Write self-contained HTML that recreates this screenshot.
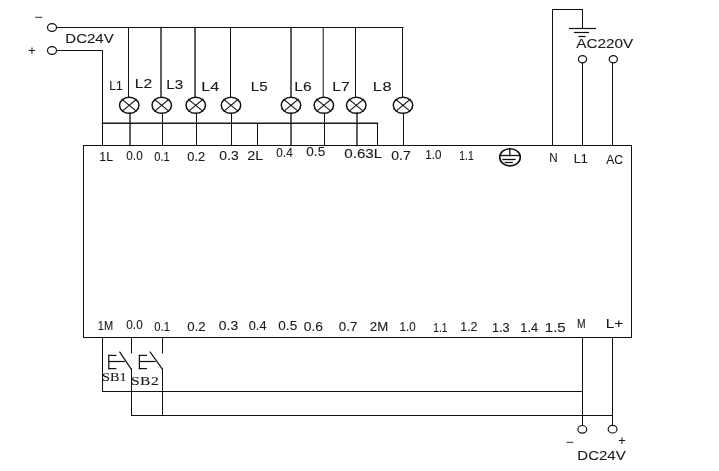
<!DOCTYPE html>
<html><head><meta charset="utf-8"><style>
html,body{margin:0;padding:0;background:#fff;}
svg{display:block;filter:grayscale(100%);}
</style></head><body>
<svg width="719" height="471" viewBox="0 0 719 471">
<rect width="719" height="471" fill="#fff"/>
<text transform="translate(34.30,21.20) scale(1.197327394209354,1)" x="0" y="0" font-family="Liberation Sans" font-size="12" fill="#1a1a1a" stroke="#1a1a1a" stroke-width="0.1" textLength="7.02" lengthAdjust="spacing" >−</text>
<ellipse cx="52" cy="27.5" rx="4.5" ry="3.8" fill="none" stroke="#111" stroke-width="1.2"/>
<text transform="translate(28.30,55.20) scale(1.0547884187082406,1)" x="0" y="0" font-family="Liberation Sans" font-size="12" fill="#1a1a1a" stroke="#1a1a1a" stroke-width="0.1" textLength="7.02" lengthAdjust="spacing" >+</text>
<ellipse cx="52" cy="50.5" rx="4.5" ry="3.8" fill="none" stroke="#111" stroke-width="1.2"/>
<text transform="translate(65.30,42.70) scale(1.1918430165448248,1)" x="0" y="0" font-family="Liberation Sans" font-size="12.6" fill="#1a1a1a" stroke="#1a1a1a" stroke-width="0.1" textLength="40.61" lengthAdjust="spacing" >DC24V</text>
<line x1="56.5" y1="27.5" x2="403.0" y2="27.5" stroke="#111" stroke-width="1" stroke-linecap="square"/>
<line x1="56.5" y1="50.5" x2="102.5" y2="50.5" stroke="#111" stroke-width="1" stroke-linecap="square"/>
<line x1="102.5" y1="50.5" x2="102.5" y2="145.5" stroke="#111" stroke-width="1" stroke-linecap="square"/>
<line x1="128.5" y1="27.5" x2="128.5" y2="97.3" stroke="#111" stroke-width="1" stroke-linecap="square"/>
<line x1="130.0" y1="113.3" x2="130.0" y2="145.5" stroke="#2a2a2a" stroke-width="1.5" stroke-linecap="square"/>
<ellipse cx="129.25" cy="105.3" rx="9.7" ry="8.0" fill="none" stroke="#111" stroke-width="1.5"/>
<line x1="122.338" y1="99.612" x2="136.162" y2="110.988" stroke="#111" stroke-width="1.1" stroke-linecap="square"/>
<line x1="136.162" y1="99.612" x2="122.338" y2="110.988" stroke="#111" stroke-width="1.1" stroke-linecap="square"/>
<line x1="161.0" y1="27.5" x2="161.0" y2="97.3" stroke="#2a2a2a" stroke-width="1.5" stroke-linecap="square"/>
<line x1="162.5" y1="113.3" x2="162.5" y2="145.5" stroke="#111" stroke-width="1" stroke-linecap="square"/>
<ellipse cx="161.75" cy="105.3" rx="9.7" ry="8.0" fill="none" stroke="#111" stroke-width="1.5"/>
<line x1="154.838" y1="99.612" x2="168.662" y2="110.988" stroke="#111" stroke-width="1.1" stroke-linecap="square"/>
<line x1="168.662" y1="99.612" x2="154.838" y2="110.988" stroke="#111" stroke-width="1.1" stroke-linecap="square"/>
<line x1="195.0" y1="27.5" x2="195.0" y2="97.3" stroke="#2a2a2a" stroke-width="1.5" stroke-linecap="square"/>
<line x1="196.5" y1="113.3" x2="196.5" y2="145.5" stroke="#111" stroke-width="1" stroke-linecap="square"/>
<ellipse cx="195.75" cy="105.3" rx="9.7" ry="8.0" fill="none" stroke="#111" stroke-width="1.5"/>
<line x1="188.838" y1="99.612" x2="202.662" y2="110.988" stroke="#111" stroke-width="1.1" stroke-linecap="square"/>
<line x1="202.662" y1="99.612" x2="188.838" y2="110.988" stroke="#111" stroke-width="1.1" stroke-linecap="square"/>
<line x1="230.5" y1="27.5" x2="230.5" y2="97.3" stroke="#111" stroke-width="1" stroke-linecap="square"/>
<line x1="231.5" y1="113.3" x2="231.5" y2="145.5" stroke="#111" stroke-width="1" stroke-linecap="square"/>
<ellipse cx="231.0" cy="105.3" rx="9.7" ry="8.0" fill="none" stroke="#111" stroke-width="1.5"/>
<line x1="224.088" y1="99.612" x2="237.912" y2="110.988" stroke="#111" stroke-width="1.1" stroke-linecap="square"/>
<line x1="237.912" y1="99.612" x2="224.088" y2="110.988" stroke="#111" stroke-width="1.1" stroke-linecap="square"/>
<line x1="291.0" y1="27.5" x2="291.0" y2="97.3" stroke="#2a2a2a" stroke-width="1.5" stroke-linecap="square"/>
<line x1="291.0" y1="113.3" x2="291.0" y2="145.5" stroke="#2a2a2a" stroke-width="1.5" stroke-linecap="square"/>
<ellipse cx="291.0" cy="105.3" rx="9.7" ry="8.0" fill="none" stroke="#111" stroke-width="1.5"/>
<line x1="284.088" y1="99.612" x2="297.912" y2="110.988" stroke="#111" stroke-width="1.1" stroke-linecap="square"/>
<line x1="297.912" y1="99.612" x2="284.088" y2="110.988" stroke="#111" stroke-width="1.1" stroke-linecap="square"/>
<line x1="323.2" y1="27.5" x2="323.2" y2="97.3" stroke="#111" stroke-width="1" stroke-linecap="square"/>
<line x1="324.5" y1="113.3" x2="324.5" y2="145.5" stroke="#111" stroke-width="1" stroke-linecap="square"/>
<ellipse cx="323.85" cy="105.3" rx="9.7" ry="8.0" fill="none" stroke="#111" stroke-width="1.5"/>
<line x1="316.93800000000005" y1="99.612" x2="330.762" y2="110.988" stroke="#111" stroke-width="1.1" stroke-linecap="square"/>
<line x1="330.762" y1="99.612" x2="316.93800000000005" y2="110.988" stroke="#111" stroke-width="1.1" stroke-linecap="square"/>
<line x1="355.5" y1="27.5" x2="355.5" y2="97.3" stroke="#111" stroke-width="1" stroke-linecap="square"/>
<line x1="357.0" y1="113.3" x2="357.0" y2="145.5" stroke="#2a2a2a" stroke-width="1.5" stroke-linecap="square"/>
<ellipse cx="356.25" cy="105.3" rx="9.7" ry="8.0" fill="none" stroke="#111" stroke-width="1.5"/>
<line x1="349.338" y1="99.612" x2="363.162" y2="110.988" stroke="#111" stroke-width="1.1" stroke-linecap="square"/>
<line x1="363.162" y1="99.612" x2="349.338" y2="110.988" stroke="#111" stroke-width="1.1" stroke-linecap="square"/>
<line x1="402.5" y1="27.5" x2="402.5" y2="97.3" stroke="#111" stroke-width="1" stroke-linecap="square"/>
<line x1="403.5" y1="113.3" x2="403.5" y2="145.5" stroke="#111" stroke-width="1" stroke-linecap="square"/>
<ellipse cx="403.0" cy="105.3" rx="9.7" ry="8.0" fill="none" stroke="#111" stroke-width="1.5"/>
<line x1="396.088" y1="99.612" x2="409.912" y2="110.988" stroke="#111" stroke-width="1.1" stroke-linecap="square"/>
<line x1="409.912" y1="99.612" x2="396.088" y2="110.988" stroke="#111" stroke-width="1.1" stroke-linecap="square"/>
<line x1="102.5" y1="123.25" x2="377.5" y2="123.25" stroke="#1a1a1a" stroke-width="1.4" stroke-linecap="square"/>
<line x1="257.5" y1="123.5" x2="257.5" y2="145.5" stroke="#111" stroke-width="1" stroke-linecap="square"/>
<line x1="377.5" y1="123.5" x2="377.5" y2="145.5" stroke="#111" stroke-width="1" stroke-linecap="square"/>
<text transform="translate(109.30,89.70) scale(0.9560758082497213,1)" x="0" y="0" font-family="Liberation Sans" font-size="12.6" fill="#1a1a1a" stroke="#1a1a1a" stroke-width="0.1" textLength="14.02" lengthAdjust="spacing" >L1</text>
<text transform="translate(134.80,88.20) scale(1.2414715719063545,1)" x="0" y="0" font-family="Liberation Sans" font-size="12.6" fill="#1a1a1a" stroke="#1a1a1a" stroke-width="0.1" textLength="14.02" lengthAdjust="spacing" >L2</text>
<text transform="translate(166.30,88.90) scale(1.2057971014492752,1)" x="0" y="0" font-family="Liberation Sans" font-size="12.6" fill="#1a1a1a" stroke="#1a1a1a" stroke-width="0.1" textLength="14.02" lengthAdjust="spacing" >L3</text>
<text transform="translate(201.30,90.70) scale(1.2771460423634335,1)" x="0" y="0" font-family="Liberation Sans" font-size="12.6" fill="#1a1a1a" stroke="#1a1a1a" stroke-width="0.1" textLength="14.02" lengthAdjust="spacing" >L4</text>
<text transform="translate(250.80,90.70) scale(1.2057971014492752,1)" x="0" y="0" font-family="Liberation Sans" font-size="12.6" fill="#1a1a1a" stroke="#1a1a1a" stroke-width="0.1" textLength="14.02" lengthAdjust="spacing" >L5</text>
<text transform="translate(294.30,90.70) scale(1.2414715719063545,1)" x="0" y="0" font-family="Liberation Sans" font-size="12.6" fill="#1a1a1a" stroke="#1a1a1a" stroke-width="0.1" textLength="14.02" lengthAdjust="spacing" >L6</text>
<text transform="translate(332.30,90.70) scale(1.2414715719063545,1)" x="0" y="0" font-family="Liberation Sans" font-size="12.6" fill="#1a1a1a" stroke="#1a1a1a" stroke-width="0.1" textLength="14.02" lengthAdjust="spacing" >L7</text>
<text transform="translate(372.80,90.70) scale(1.3,1)" x="0" y="0" font-family="Liberation Sans" font-size="12.6" fill="#1a1a1a" stroke="#1a1a1a" stroke-width="0.1" textLength="14.54" lengthAdjust="spacing" >L8</text>
<rect x="83.5" y="145.5" width="548" height="192" fill="none" stroke="#111" stroke-width="1"/>
<text transform="translate(99.30,160.90) scale(0.9774804905239686,1)" x="0" y="0" font-family="Liberation Sans" font-size="12.6" fill="#1a1a1a" stroke="#1a1a1a" stroke-width="0.1" textLength="14.02" lengthAdjust="spacing" >1L</text>
<text transform="translate(126.30,159.90) scale(0.9363068688670829,1)" x="0" y="0" font-family="Liberation Sans" font-size="12.6" fill="#1a1a1a" stroke="#1a1a1a" stroke-width="0.1" textLength="17.52" lengthAdjust="spacing" >0.0</text>
<text transform="translate(154.30,160.90) scale(0.8792149866190901,1)" x="0" y="0" font-family="Liberation Sans" font-size="12.6" fill="#1a1a1a" stroke="#1a1a1a" stroke-width="0.1" textLength="17.52" lengthAdjust="spacing" >0.1</text>
<text transform="translate(187.30,160.70) scale(1.0219446922390722,1)" x="0" y="0" font-family="Liberation Sans" font-size="12.6" fill="#1a1a1a" stroke="#1a1a1a" stroke-width="0.1" textLength="17.52" lengthAdjust="spacing" >0.2</text>
<text transform="translate(219.30,159.70) scale(1.1075825156110615,1)" x="0" y="0" font-family="Liberation Sans" font-size="12.6" fill="#1a1a1a" stroke="#1a1a1a" stroke-width="0.1" textLength="17.52" lengthAdjust="spacing" >0.3</text>
<text transform="translate(247.30,160.20) scale(1.134448160535117,1)" x="0" y="0" font-family="Liberation Sans" font-size="12.6" fill="#1a1a1a" stroke="#1a1a1a" stroke-width="0.1" textLength="14.02" lengthAdjust="spacing" >2L</text>
<text transform="translate(276.30,156.70) scale(0.9363068688670829,1)" x="0" y="0" font-family="Liberation Sans" font-size="12.6" fill="#1a1a1a" stroke="#1a1a1a" stroke-width="0.1" textLength="17.52" lengthAdjust="spacing" >0.4</text>
<text transform="translate(306.30,156.20) scale(1.0790365744870651,1)" x="0" y="0" font-family="Liberation Sans" font-size="12.6" fill="#1a1a1a" stroke="#1a1a1a" stroke-width="0.1" textLength="17.52" lengthAdjust="spacing" >0.5</text>
<text transform="translate(344.30,158.40) scale(1.2025780862667328,1)" x="0" y="0" font-family="Liberation Sans" font-size="12.6" fill="#1a1a1a" stroke="#1a1a1a" stroke-width="0.1" textLength="31.52" lengthAdjust="spacing" >0.63L</text>
<text transform="translate(391.30,159.70) scale(1.1075825156110615,1)" x="0" y="0" font-family="Liberation Sans" font-size="12.6" fill="#1a1a1a" stroke="#1a1a1a" stroke-width="0.1" textLength="17.52" lengthAdjust="spacing" >0.7</text>
<text transform="translate(425.30,159.40) scale(0.9248884924174849,1)" x="0" y="0" font-family="Liberation Sans" font-size="12.6" fill="#1a1a1a" stroke="#1a1a1a" stroke-width="0.1" textLength="17.52" lengthAdjust="spacing" >1.0</text>
<text transform="translate(459.30,160.00) scale(0.85,1)" x="0" y="0" font-family="Liberation Sans" font-size="12.6" fill="#1a1a1a" stroke="#1a1a1a" stroke-width="0.1" textLength="16.94" lengthAdjust="spacingAndGlyphs" >1.1</text>
<text transform="translate(549.30,162.00) scale(0.9221269296740995,1)" x="0" y="0" font-family="Liberation Sans" font-size="12.6" fill="#1a1a1a" stroke="#1a1a1a" stroke-width="0.1" textLength="9.11" lengthAdjust="spacing" >N</text>
<text transform="translate(573.80,162.50) scale(0.9917502787068004,1)" x="0" y="0" font-family="Liberation Sans" font-size="12.6" fill="#1a1a1a" stroke="#1a1a1a" stroke-width="0.1" textLength="14.02" lengthAdjust="spacing" >L1</text>
<text transform="translate(606.30,163.60) scale(0.9599999999999986,1)" x="0" y="0" font-family="Liberation Sans" font-size="12.6" fill="#1a1a1a" stroke="#1a1a1a" stroke-width="0.1" textLength="17.50" lengthAdjust="spacing" >AC</text>
<ellipse cx="510" cy="157.3" rx="10.3" ry="8.6" fill="none" stroke="#111" stroke-width="1.6"/>
<line x1="500" y1="155.5" x2="520" y2="155.5" stroke="#111" stroke-width="1.3" stroke-linecap="square"/>
<line x1="509.8" y1="148.5" x2="509.8" y2="155.5" stroke="#111" stroke-width="1.3" stroke-linecap="square"/>
<line x1="503" y1="159.5" x2="515" y2="159.5" stroke="#111" stroke-width="1.3" stroke-linecap="square"/>
<line x1="505.2" y1="162.5" x2="512.3" y2="162.5" stroke="#111" stroke-width="1.2" stroke-linecap="square"/>
<line x1="552.5" y1="9.5" x2="552.5" y2="145.5" stroke="#111" stroke-width="1" stroke-linecap="square"/>
<line x1="552.5" y1="9.5" x2="582.5" y2="9.5" stroke="#111" stroke-width="1" stroke-linecap="square"/>
<line x1="582.5" y1="9.5" x2="582.5" y2="28.5" stroke="#111" stroke-width="1" stroke-linecap="square"/>
<line x1="569.5" y1="28.5" x2="595.5" y2="28.5" stroke="#111" stroke-width="1.2" stroke-linecap="square"/>
<line x1="574.5" y1="32.5" x2="588.5" y2="32.5" stroke="#111" stroke-width="1.2" stroke-linecap="square"/>
<line x1="579" y1="36.5" x2="585" y2="36.5" stroke="#111" stroke-width="1.2" stroke-linecap="square"/>
<text transform="translate(576.30,48.00) scale(1.2126540126540126,1)" x="0" y="0" font-family="Liberation Sans" font-size="12.6" fill="#1a1a1a" stroke="#1a1a1a" stroke-width="0.1" textLength="46.92" lengthAdjust="spacing" >AC220V</text>
<ellipse cx="582.5" cy="59.3" rx="4.1" ry="3.6" fill="none" stroke="#111" stroke-width="1.2"/>
<ellipse cx="613.3" cy="59.3" rx="4.1" ry="3.6" fill="none" stroke="#111" stroke-width="1.2"/>
<line x1="582.5" y1="63" x2="582.5" y2="145.5" stroke="#111" stroke-width="1" stroke-linecap="square"/>
<line x1="612.5" y1="63" x2="612.5" y2="145.5" stroke="#111" stroke-width="1" stroke-linecap="square"/>
<text transform="translate(97.80,330.20) scale(0.8742857142857147,1)" x="0" y="0" font-family="Liberation Sans" font-size="12.6" fill="#1a1a1a" stroke="#1a1a1a" stroke-width="0.1" textLength="17.50" lengthAdjust="spacing" >1M</text>
<text transform="translate(126.30,329.20) scale(0.9363068688670829,1)" x="0" y="0" font-family="Liberation Sans" font-size="12.6" fill="#1a1a1a" stroke="#1a1a1a" stroke-width="0.1" textLength="17.52" lengthAdjust="spacing" >0.0</text>
<text transform="translate(154.30,331.20) scale(0.8963425512934886,1)" x="0" y="0" font-family="Liberation Sans" font-size="12.6" fill="#1a1a1a" stroke="#1a1a1a" stroke-width="0.1" textLength="17.52" lengthAdjust="spacing" >0.1</text>
<text transform="translate(187.30,330.70) scale(1.0504906333630686,1)" x="0" y="0" font-family="Liberation Sans" font-size="12.6" fill="#1a1a1a" stroke="#1a1a1a" stroke-width="0.1" textLength="17.52" lengthAdjust="spacing" >0.2</text>
<text transform="translate(218.80,330.00) scale(1.1075825156110615,1)" x="0" y="0" font-family="Liberation Sans" font-size="12.6" fill="#1a1a1a" stroke="#1a1a1a" stroke-width="0.1" textLength="17.52" lengthAdjust="spacing" >0.3</text>
<text transform="translate(248.80,330.00) scale(1.0105263157894742,1)" x="0" y="0" font-family="Liberation Sans" font-size="12.6" fill="#1a1a1a" stroke="#1a1a1a" stroke-width="0.1" textLength="17.52" lengthAdjust="spacing" >0.4</text>
<text transform="translate(278.30,330.00) scale(1.0790365744870651,1)" x="0" y="0" font-family="Liberation Sans" font-size="12.6" fill="#1a1a1a" stroke="#1a1a1a" stroke-width="0.1" textLength="17.52" lengthAdjust="spacing" >0.5</text>
<text transform="translate(303.80,331.40) scale(1.1018733273862609,1)" x="0" y="0" font-family="Liberation Sans" font-size="12.6" fill="#1a1a1a" stroke="#1a1a1a" stroke-width="0.1" textLength="17.52" lengthAdjust="spacing" >0.6</text>
<text transform="translate(338.80,330.80) scale(1.0561998215878692,1)" x="0" y="0" font-family="Liberation Sans" font-size="12.6" fill="#1a1a1a" stroke="#1a1a1a" stroke-width="0.1" textLength="17.52" lengthAdjust="spacing" >0.7</text>
<text transform="translate(369.80,330.80) scale(1.0514285714285714,1)" x="0" y="0" font-family="Liberation Sans" font-size="12.6" fill="#1a1a1a" stroke="#1a1a1a" stroke-width="0.1" textLength="17.50" lengthAdjust="spacing" >2M</text>
<text transform="translate(399.60,330.80) scale(0.9191793041926843,1)" x="0" y="0" font-family="Liberation Sans" font-size="12.6" fill="#1a1a1a" stroke="#1a1a1a" stroke-width="0.1" textLength="17.52" lengthAdjust="spacing" >1.0</text>
<text transform="translate(433.30,332.40) scale(0.85,1)" x="0" y="0" font-family="Liberation Sans" font-size="12.6" fill="#1a1a1a" stroke="#1a1a1a" stroke-width="0.1" textLength="16.47" lengthAdjust="spacingAndGlyphs" >1.1</text>
<text transform="translate(460.30,330.80) scale(0.9762711864406772,1)" x="0" y="0" font-family="Liberation Sans" font-size="12.6" fill="#1a1a1a" stroke="#1a1a1a" stroke-width="0.1" textLength="17.52" lengthAdjust="spacing" >1.2</text>
<text transform="translate(492.00,331.70) scale(1.0105263157894742,1)" x="0" y="0" font-family="Liberation Sans" font-size="12.6" fill="#1a1a1a" stroke="#1a1a1a" stroke-width="0.1" textLength="17.52" lengthAdjust="spacing" >1.3</text>
<text transform="translate(520.30,332.40) scale(1.0162355040142717,1)" x="0" y="0" font-family="Liberation Sans" font-size="12.6" fill="#1a1a1a" stroke="#1a1a1a" stroke-width="0.1" textLength="17.52" lengthAdjust="spacing" >1.4</text>
<text transform="translate(544.80,331.70) scale(1.1932203389830507,1)" x="0" y="0" font-family="Liberation Sans" font-size="12.6" fill="#1a1a1a" stroke="#1a1a1a" stroke-width="0.1" textLength="17.52" lengthAdjust="spacing" >1.5</text>
<text transform="translate(577.10,328.40) scale(0.85,1)" x="0" y="0" font-family="Liberation Sans" font-size="12.6" fill="#1a1a1a" stroke="#1a1a1a" stroke-width="0.1" textLength="10.12" lengthAdjust="spacingAndGlyphs" >M</text>
<text transform="translate(605.70,328.40) scale(1.2256800870511455,1)" x="0" y="0" font-family="Liberation Sans" font-size="12.6" fill="#1a1a1a" stroke="#1a1a1a" stroke-width="0.1" textLength="14.36" lengthAdjust="spacing" >L+</text>
<line x1="102.5" y1="337.5" x2="102.5" y2="391.5" stroke="#111" stroke-width="1" stroke-linecap="square"/>
<line x1="102.5" y1="391.5" x2="582.5" y2="391.5" stroke="#111" stroke-width="1" stroke-linecap="square"/>
<line x1="131.5" y1="337.5" x2="131.5" y2="353" stroke="#111" stroke-width="1" stroke-linecap="square"/>
<line x1="131.5" y1="368.8" x2="131.5" y2="415.5" stroke="#111" stroke-width="1" stroke-linecap="square"/>
<line x1="162.5" y1="337.5" x2="162.5" y2="353" stroke="#111" stroke-width="1" stroke-linecap="square"/>
<line x1="162.5" y1="368.8" x2="162.5" y2="415.5" stroke="#111" stroke-width="1" stroke-linecap="square"/>
<line x1="131.5" y1="415.5" x2="612.5" y2="415.5" stroke="#111" stroke-width="1" stroke-linecap="square"/>
<line x1="582.5" y1="337.5" x2="582.5" y2="425" stroke="#111" stroke-width="1" stroke-linecap="square"/>
<line x1="612.5" y1="337.5" x2="612.5" y2="425" stroke="#111" stroke-width="1" stroke-linecap="square"/>
<ellipse cx="582.3" cy="429.3" rx="4.4" ry="3.8" fill="none" stroke="#111" stroke-width="1.2"/>
<ellipse cx="612.6" cy="429.2" rx="4.4" ry="3.8" fill="none" stroke="#111" stroke-width="1.2"/>
<text transform="translate(565.80,446.20) scale(1.1260579064587974,1)" x="0" y="0" font-family="Liberation Sans" font-size="12" fill="#1a1a1a" stroke="#1a1a1a" stroke-width="0.1" textLength="7.02" lengthAdjust="spacing" >−</text>
<text transform="translate(618.30,444.70) scale(1.0547884187082406,1)" x="0" y="0" font-family="Liberation Sans" font-size="12" fill="#1a1a1a" stroke="#1a1a1a" stroke-width="0.1" textLength="7.02" lengthAdjust="spacing" >+</text>
<text transform="translate(577.30,460.20) scale(1.1918430165448248,1)" x="0" y="0" font-family="Liberation Sans" font-size="12.6" fill="#1a1a1a" stroke="#1a1a1a" stroke-width="0.1" textLength="40.61" lengthAdjust="spacing" >DC24V</text>
<line x1="108.8" y1="355.4" x2="108.8" y2="368.6" stroke="#111" stroke-width="1.2" stroke-linecap="square"/>
<line x1="108.8" y1="355.4" x2="115.8" y2="355.4" stroke="#111" stroke-width="1.2" stroke-linecap="square"/>
<line x1="108.8" y1="368.6" x2="115.8" y2="368.6" stroke="#111" stroke-width="1.2" stroke-linecap="square"/>
<line x1="108.8" y1="361.5" x2="124.3" y2="361.5" stroke="#111" stroke-width="1.2" stroke-linecap="square"/>
<line x1="119.8" y1="352.2" x2="131.1" y2="368.8" stroke="#111" stroke-width="1.2" stroke-linecap="square"/>
<line x1="139.4" y1="355.4" x2="139.4" y2="368.6" stroke="#111" stroke-width="1.2" stroke-linecap="square"/>
<line x1="139.4" y1="355.4" x2="146.4" y2="355.4" stroke="#111" stroke-width="1.2" stroke-linecap="square"/>
<line x1="139.4" y1="368.6" x2="146.4" y2="368.6" stroke="#111" stroke-width="1.2" stroke-linecap="square"/>
<line x1="139.4" y1="361.5" x2="154.9" y2="361.5" stroke="#111" stroke-width="1.2" stroke-linecap="square"/>
<line x1="150.2" y1="352.2" x2="162.2" y2="368.8" stroke="#111" stroke-width="1.2" stroke-linecap="square"/>
<text transform="translate(102.10,380.70) scale(1.1891238670694866,1)" x="0" y="0" font-family="Liberation Serif" font-size="12" fill="#1a1a1a" stroke="#1a1a1a" stroke-width="0.1" textLength="20.69" lengthAdjust="spacingAndGlyphs" >SB1</text>
<text transform="translate(131.10,384.60) scale(1.3,1)" x="0" y="0" font-family="Liberation Serif" font-size="12" fill="#1a1a1a" stroke="#1a1a1a" stroke-width="0.1" textLength="21.23" lengthAdjust="spacing" >SB2</text>
</svg>
</body></html>
